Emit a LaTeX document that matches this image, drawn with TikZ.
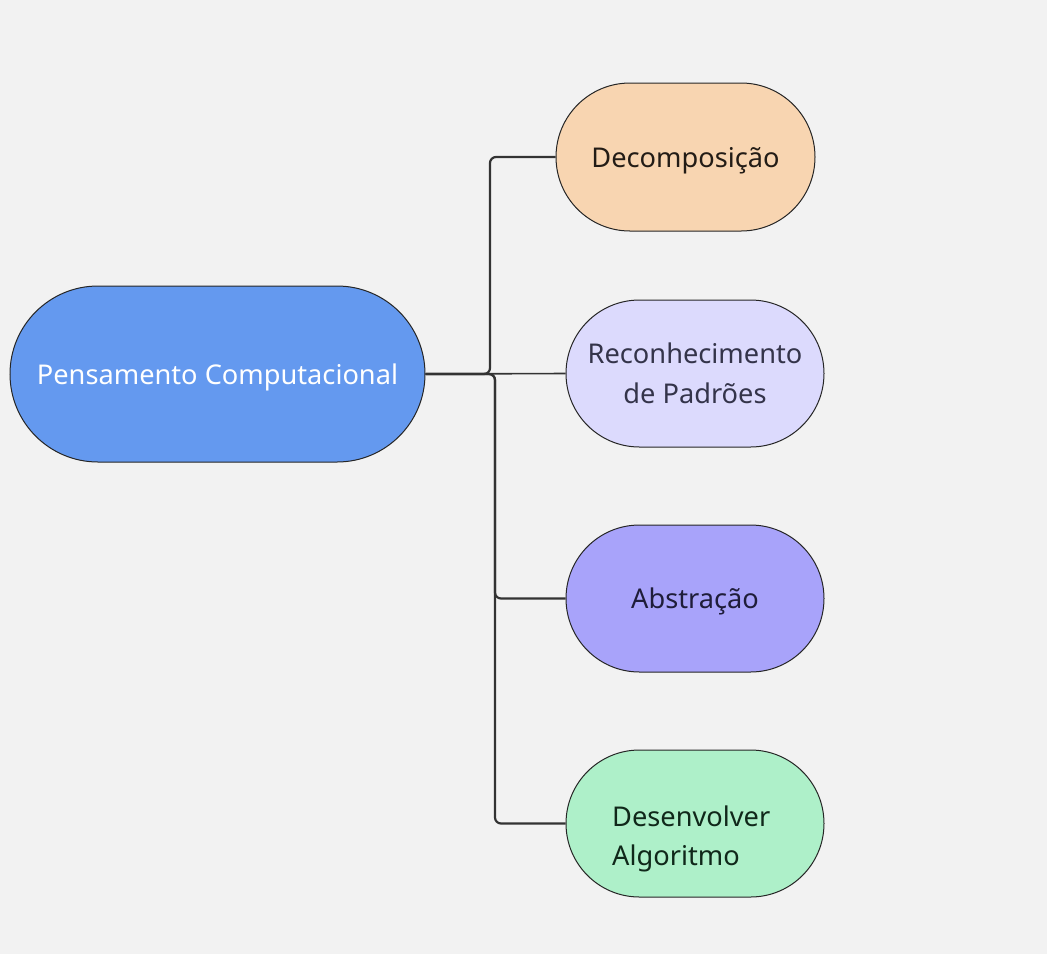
\documentclass[tikz,border=0pt]{standalone}
\usepackage{fontspec}
\setmainfont{Noto Sans}
\usetikzlibrary{shapes.misc}
\definecolor{bg}{HTML}{F2F2F2}
\definecolor{cmain}{HTML}{6499EF}
\definecolor{cdec}{HTML}{F8D5B1}
\definecolor{crec}{HTML}{DCDAFD}
\definecolor{cabs}{HTML}{A8A3FA}
\definecolor{cdes}{HTML}{AEF0C9}
\definecolor{line}{HTML}{333333}
\definecolor{trec}{HTML}{34344A}
\definecolor{tabs}{HTML}{1F1D3A}
\definecolor{tdes}{HTML}{10281A}
\definecolor{tdec}{HTML}{231C16}
\begin{document}
\begin{tikzpicture}[x=1pt,y=-1pt,
  txt/.style={font=\fontsize{27.2}{39.5}\selectfont},
  one/.style={text height=26.5pt, text depth=6.5pt},
  pill/.style={rounded rectangle, draw=black!85, line width=1pt, inner sep=0pt,
     txt, minimum width=258pt, minimum height=147pt},
  conn/.style={draw=line, line width=2.2pt, rounded corners=6pt}]
\fill[bg] (0,0) rectangle (1047,954);
\useasboundingbox (0,0) rectangle (1047,954);
\node[pill, one, fill=cmain, text=white, minimum width=415pt, minimum height=176pt] (main) at (217.5,374) {Pensamento Computacional};
\node[pill, one, fill=cdec, text=tdec, minimum width=259pt, minimum height=148pt] (dec) at (685.5,157) {Decomposição};
\node[pill, fill=crec, text=trec, align=center] (rec) at (695,373.5) {Reconhecimento\\de Padrões};
\node[pill, one, fill=cabs, text=tabs] (abs) at (695,598.5) {Abstração};
\node[pill, fill=cdes] (des) at (695,823.5) {};
\node[txt, text=tdes, align=left, anchor=west, inner sep=0pt] (destext) at (612,839) {Desenvolver\\Algoritmo};
\coordinate (j1) at (490,374);
\coordinate (j2) at (495,374);
\draw[conn] (main.east) -- (j1) |- (dec.west);
\draw[conn, line width=1.6pt] (main.east) -- (rec.west);
\draw[conn] (main.east) -- (j2) |- (abs.west);
\draw[conn] (main.east) -- (j2) |- (des.west);
\end{tikzpicture}
\end{document}
